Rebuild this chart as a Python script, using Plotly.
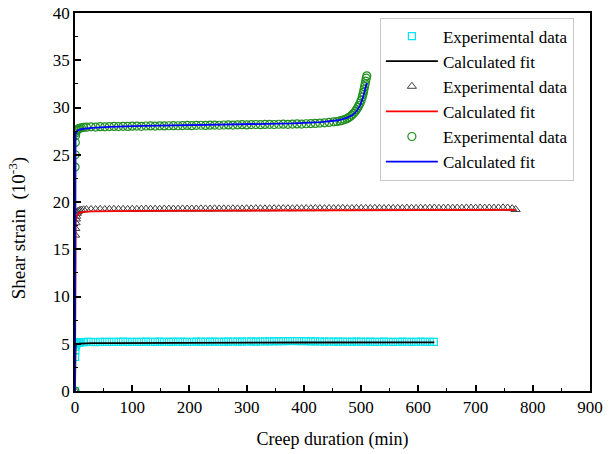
import plotly.graph_objects as go

# ---- Test 1 (cyan squares) ----
t1_early = [0, 0.3, 0.6, 1, 1.5, 2, 3, 4, 6, 8, 11, 15]
s1_early = [0.0, 3.6, 4.3, 4.7, 4.9, 5.0, 5.05, 5.1, 5.12, 5.15, 5.17, 5.18]
t1_grid = list(range(20, 621, 8))
s1_grid = [5.19, 5.20, 5.18, 5.21, 5.20, 5.19, 5.21, 5.20, 5.22, 5.20,
           5.21, 5.19, 5.20, 5.22, 5.21, 5.20, 5.22, 5.21, 5.20, 5.22,
           5.21, 5.22, 5.20, 5.21, 5.23, 5.22, 5.21, 5.23, 5.22, 5.21,
           5.23, 5.22, 5.24, 5.23, 5.22, 5.24, 5.25, 5.23, 5.24, 5.26,
           5.25, 5.27, 5.26, 5.28, 5.27, 5.29, 5.28, 5.27, 5.28, 5.26,
           5.25, 5.24, 5.23, 5.24, 5.22, 5.23, 5.22, 5.21, 5.22, 5.23,
           5.22, 5.21, 5.22, 5.20, 5.21, 5.22, 5.21, 5.20, 5.21, 5.22,
           5.21, 5.20, 5.21, 5.22, 5.21, 5.20]
t1_tail = [627]
s1_tail = [5.2]
fit1_t = [0, 0.3, 0.6, 1, 2, 4, 8, 15, 30, 60, 120, 250, 400, 628]
fit1_s = [0, 3.4, 4.3, 4.7, 4.9, 4.98, 5.02, 5.04, 5.06, 5.07, 5.09, 5.11, 5.13, 5.15]

# ---- Test 2 (gray triangles) ----
t2_early = [0, 0.3, 0.6, 1, 1.5, 2, 3, 4, 6, 8, 11, 15]
s2_early = [0.0, 16.5, 17.2, 17.8, 18.2, 18.5, 18.8, 18.95, 19.05, 19.1, 19.15, 19.18]
t2_grid = list(range(20, 757, 8))
s2_grid = [19.20, 19.21, 19.20, 19.22, 19.21, 19.22, 19.23, 19.22, 19.23, 19.22,
           19.24, 19.23, 19.24, 19.25, 19.24, 19.25, 19.24, 19.26, 19.25, 19.26,
           19.25, 19.27, 19.26, 19.27, 19.26, 19.28, 19.27, 19.26, 19.28, 19.27,
           19.28, 19.27, 19.29, 19.28, 19.27, 19.29, 19.28, 19.30, 19.29, 19.28,
           19.29, 19.30, 19.29, 19.31, 19.30, 19.29, 19.31, 19.30, 19.31, 19.30,
           19.32, 19.31, 19.30, 19.32, 19.31, 19.32, 19.33, 19.31, 19.32, 19.33,
           19.32, 19.33, 19.32, 19.34, 19.33, 19.32, 19.34, 19.33, 19.34, 19.33,
           19.35, 19.34, 19.33, 19.35, 19.34, 19.35, 19.36, 19.34, 19.35, 19.36,
           19.35, 19.36, 19.35, 19.37, 19.36, 19.35, 19.37, 19.36, 19.37, 19.36,
           19.37, 19.38, 19.37]
t2_tail = [764, 770]
s2_tail = [19.3, 19.2]
fit2_t = [0, 0.3, 0.6, 1, 2, 4, 8, 15, 30, 60, 120, 250, 400, 600, 770]
fit2_s = [0, 16.3, 17.2, 17.7, 18.3, 18.65, 18.85, 18.95, 19.0, 19.03, 19.06, 19.09, 19.12, 19.15, 19.17]

# ---- Test 3 (green circles, accelerating creep) ----
t3_early = [0, 0.2, 0.4, 0.6, 1, 1.5, 2, 3, 4, 6, 8, 11, 15]
s3_early = [0.0, 23.7, 25.0, 26.3, 27.0, 27.3, 27.5, 27.6, 27.7, 27.75, 27.8, 27.85, 27.9]
t3_grid = list(range(20, 453, 8))
s3_grid = [27.92, 27.95, 27.93, 27.97, 27.96, 27.98, 28.00, 27.98, 28.01, 28.00,
           28.02, 28.03, 28.01, 28.04, 28.05, 28.03, 28.06, 28.05, 28.07, 28.08,
           28.07, 28.09, 28.10, 28.08, 28.11, 28.12, 28.10, 28.13, 28.14, 28.12,
           28.15, 28.16, 28.14, 28.17, 28.18, 28.16, 28.19, 28.20, 28.18, 28.21,
           28.22, 28.20, 28.23, 28.24, 28.22, 28.25, 28.26, 28.25, 28.28, 28.30,
           28.32, 28.35, 28.38, 28.42, 28.48]
t3_tail = [458, 463, 467, 471, 475, 478, 481, 484, 487, 490, 492, 494, 496, 498,
           500, 502, 503, 504, 505, 506, 507, 508, 509, 510]
s3_tail = [28.52, 28.58, 28.64, 28.72, 28.82, 28.92, 29.05, 29.2, 29.38, 29.6,
           29.78, 29.98, 30.2, 30.45, 30.75, 31.1, 31.35, 31.6, 31.9, 32.2,
           32.5, 32.8, 33.1, 33.35]
fit3_t = [0, 0.2, 0.5, 1, 2, 4, 8, 15, 30, 60, 120, 200, 300, 380, 430, 460,
          475, 485, 492, 498, 502, 505, 508, 510]
fit3_s = [0, 24.5, 26.5, 27.1, 27.4, 27.55, 27.65, 27.75, 27.85, 27.95, 28.05,
          28.13, 28.22, 28.32, 28.45, 28.65, 28.9, 29.2, 29.6, 30.2, 30.8, 31.4,
          32.1, 32.6]

FONT = "Liberation Serif, Times New Roman, serif"

t1 = t1_early + t1_grid + t1_tail
s1 = s1_early + s1_grid + s1_tail
t2 = t2_early + t2_grid + t2_tail
s2 = s2_early + s2_grid + s2_tail
t3 = t3_early + t3_grid + t3_tail
s3 = s3_early + s3_grid + s3_tail

fig = go.Figure()
fig.add_trace(go.Scatter(x=t1, y=s1, mode="markers", name="Experimental data",
                         marker=dict(symbol="square-open", size=7, color="#00e5ee",
                                     line=dict(width=1.2, color="#00e5ee"))))
fig.add_trace(go.Scatter(x=fit1_t, y=fit1_s, mode="lines", name="Calculated fit",
                         line=dict(color="black", width=1.8)))
fig.add_trace(go.Scatter(x=t2, y=s2, mode="markers", name="Experimental data",
                         marker=dict(symbol="triangle-up-open", size=8, color="#404040",
                                     line=dict(width=1, color="#404040"))))
fig.add_trace(go.Scatter(x=fit2_t, y=fit2_s, mode="lines", name="Calculated fit",
                         line=dict(color="red", width=1.8)))
fig.add_trace(go.Scatter(x=t3, y=s3, mode="markers", name="Experimental data",
                         marker=dict(symbol="circle-open", size=8, color="#1f8f1f",
                                     line=dict(width=1.2, color="#1f8f1f"))))
fig.add_trace(go.Scatter(x=fit3_t, y=fit3_s, mode="lines", name="Calculated fit",
                         line=dict(color="blue", width=1.8)))

axis_common = dict(showline=True, linecolor="black", linewidth=1.5, mirror=True,
                   ticks="inside", ticklen=6, tickwidth=1.5, tickcolor="black",
                   showgrid=False, zeroline=False, automargin=False,
                   tickfont=dict(family=FONT, size=17, color="black"))

fig.update_xaxes(range=[0, 900], dtick=100, tick0=0,
                 minor=dict(ticks="inside", ticklen=3, tickwidth=1.2, dtick=50,
                            tickcolor="black"),
                 title=dict(text="Creep duration (min)", standoff=16,
                            font=dict(family=FONT, size=18, color="black")),
                 **axis_common)
fig.update_yaxes(range=[0, 40], dtick=5, tick0=0,
                 minor=dict(ticks="inside", ticklen=3, tickwidth=1.2, dtick=2.5,
                            tickcolor="black"),
                 **axis_common)

# y-axis title placed as a rotated annotation left of the tick labels
fig.add_annotation(text="Shear strain\u00a0\u00a0(10<sup>-3</sup>)",
                   xref="paper", yref="paper", x=-0.111, y=0.43,
                   xanchor="center", yanchor="middle", textangle=-90,
                   showarrow=False,
                   font=dict(family=FONT, size=19, color="black"))

fig.update_layout(
    width=611, height=454,
    margin=dict(l=75, r=21, t=13, b=63),
    paper_bgcolor="white", plot_bgcolor="white",
    font=dict(family=FONT, size=17, color="black"),
    legend=dict(x=0.592, y=0.988, xanchor="left", yanchor="top",
                bgcolor="white", bordercolor="#c8c8c8", borderwidth=1,
                font=dict(family=FONT, size=17, color="black"),
                itemwidth=52, tracegroupgap=0),
)

fig.write_html("out.html")
